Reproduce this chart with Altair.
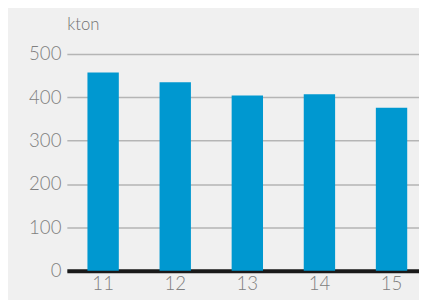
import altair as alt
import pandas as pd

years = ["11", "12", "13", "14", "15"]
values = [457, 435, 404, 407, 376]

df = pd.DataFrame({"year": years, "kton": values})

FONT = "Lato"
GRAY = "#808080"

chart = (
    alt.Chart(df)
    .mark_bar(color="#0098d0")
    .encode(
        x=alt.X(
            "year:N",
            sort=years,
            scale=alt.Scale(paddingInner=0.565, paddingOuter=0.2246, align=0.636),
            axis=alt.Axis(
                title=None,
                labelAngle=0,
                ticks=False,
                domain=True,
                domainColor="#1a1a1a",
                domainWidth=4,
                labelPadding=4,
                labelFont=FONT,
                labelFontSize=19,
                labelFontWeight=300,
                labelColor=GRAY,
                grid=False,
            ),
        ),
        y=alt.Y(
            "kton:Q",
            scale=alt.Scale(domain=[0, 500], nice=False),
            axis=alt.Axis(
                values=[0, 100, 200, 300, 400, 500],
                title="kton",
                titleAngle=0,
                titleAlign="left",
                titleBaseline="alphabetic",
                titleX=0,
                titleY=-25,
                titleFont=FONT,
                titleFontSize=17,
                titleFontWeight=300,
                titleColor="#707070",
                domain=False,
                ticks=False,
                labelPadding=6,
                labelFont=FONT,
                labelFontSize=19,
                labelFontWeight=300,
                labelColor=GRAY,
                gridColor="#b5b5b5",
                gridWidth=1.5,
            ),
        ),
    )
    .properties(
        width=359,
        height=221,
        background="#f0f0f0",
        autosize=alt.AutoSizeParams(type="none"),
        padding={"left": 60, "top": 44, "right": 0, "bottom": 27},
    )
    .configure_view(stroke=None)
)

chart.save("out.html", embed_options={"renderer": "svg", "actions": False})
